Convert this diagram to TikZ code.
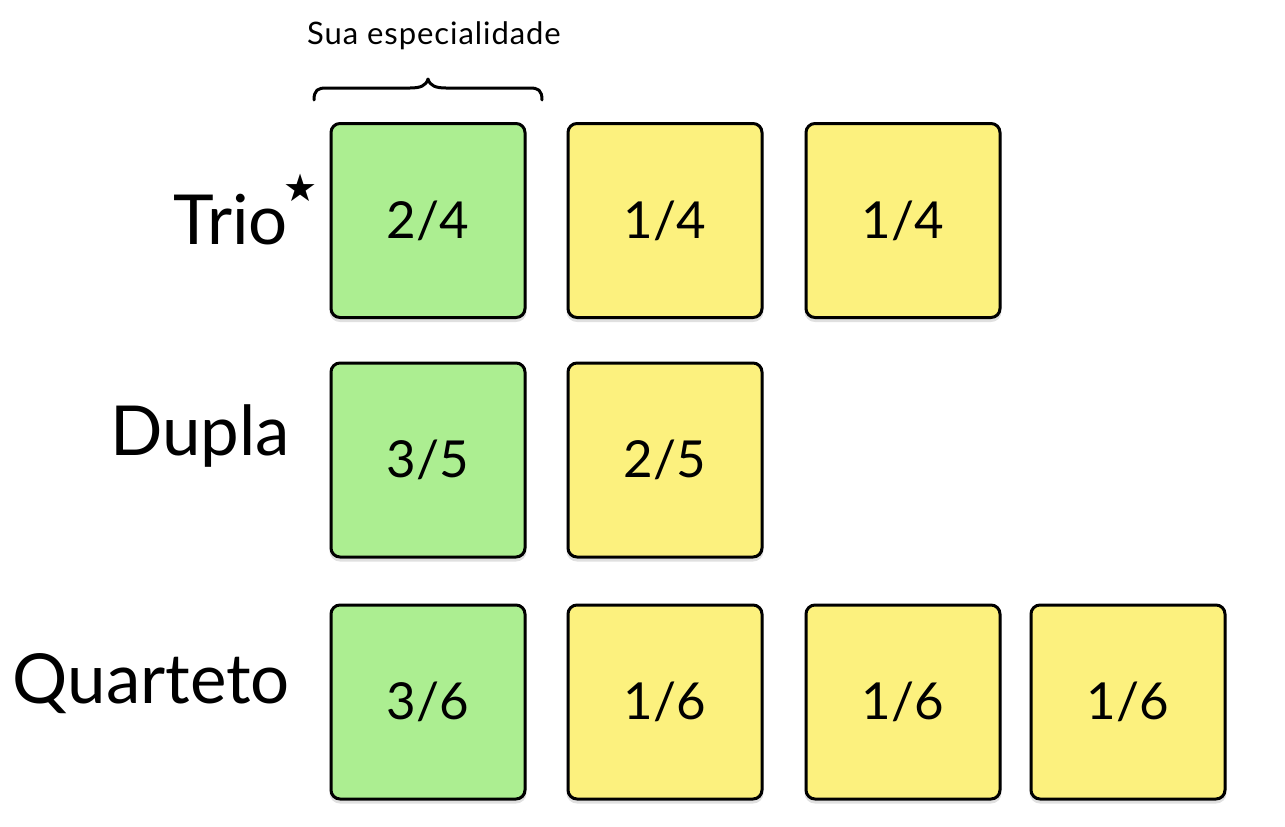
\documentclass[tikz,border=0pt]{standalone}
\usepackage{fontspec}
\setmainfont{Lato}
\newfontfamily\symfont{DejaVu Sans}
\definecolor{boxgreen}{HTML}{ACEE91}
\definecolor{boxyellow}{HTML}{FCF17E}
\begin{document}
\begin{tikzpicture}[x=1pt,y=-1pt,
  cell/.style={draw=black,line width=3pt,rounded corners=9pt,minimum width=194pt,minimum height=194pt,inner sep=0pt,font=\fontsize{51}{51}\selectfont,
    preaction={draw=black!12,line width=3pt,transform canvas={yshift=-3pt}}},
  gcell/.style={cell,fill=boxgreen},
  ycell/.style={cell,fill=boxyellow},
  rowlabel/.style={anchor=base east,inner sep=0pt,font=\fontsize{69}{69}\selectfont}]
\useasboundingbox (0,0) rectangle (1285,827);
% row 1
\node[gcell] (t1) at (428,220.5) {2/4};
\node[ycell] (t2) at (665,220.5) {1/4};
\node[ycell] (t3) at (903,220.5) {1/4};
% row 2
\node[gcell] (d1) at (428,460) {3/5};
\node[ycell] (d2) at (665,460) {2/5};
% row 3
\node[gcell] (q1) at (428,702) {3/6};
\node[ycell] (q2) at (665,702) {1/6};
\node[ycell] (q3) at (903,702) {1/6};
\node[ycell] (q4) at (1128,702) {1/6};
% labels
\node[rowlabel] (ltrio) at (288,244) {Trio};
\node[anchor=center,inner sep=0pt,font=\symfont\fontsize{38}{38}\selectfont] (star) at (301,188) {★};
\node[rowlabel] (ldupla) at (290,455) {Dupla};
\node[rowlabel] (lquart) at (290,703) {Quarteto};
% brace
\node[anchor=base,inner sep=0pt,font=\fontsize{31}{31}\selectfont\addfontfeature{LetterSpace=3}] (spec) at (434,44) {Sua especialidade};
\draw[line width=3pt,line cap=round,line join=round]
  (314,100) .. controls (314,90) and (318,88) .. (326,88)
  -- (410,88) .. controls (420,88) and (426,86) .. (428,79)
  .. controls (430,86) and (436,88) .. (446,88)
  -- (530,88) .. controls (538,88) and (542,90) .. (542,100);
\end{tikzpicture}
\end{document}
